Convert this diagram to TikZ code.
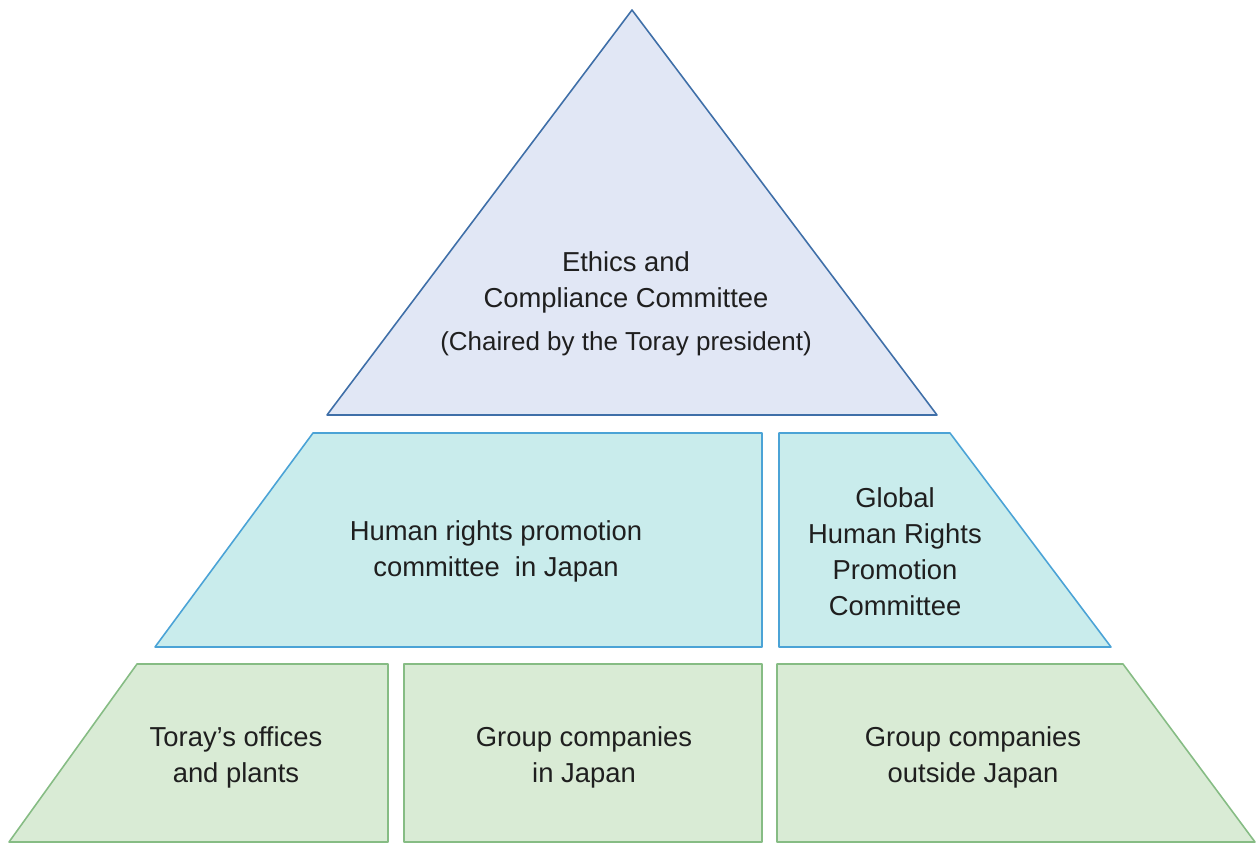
\documentclass[tikz,border=0pt]{standalone}
\usepackage{fontspec}
\setmainfont{Liberation Sans}
\usepackage[table, x11names]{xcolor}
\usepackage{tikz}

\definecolor{topfill}{HTML}{E1E7F5}
\definecolor{topline}{HTML}{3F6FA8}
\definecolor{midfill}{HTML}{C9ECEC}
\definecolor{midline}{HTML}{4BA3D6}
\definecolor{botfill}{HTML}{D9EBD5}
\definecolor{botline}{HTML}{86BC84}

\begin{document}
\begin{tikzpicture}[x=0.02cm,y=-0.02cm,
  toplevel/.style={draw=topline,fill=topfill,line width=0.9pt,line join=round},
  midlevel/.style={draw=midline,fill=midfill,line width=0.9pt,line join=round},
  botlevel/.style={draw=botline,fill=botfill,line width=0.9pt,line join=round},
  label/.style={align=center,text=black!88,font=\fontsize{15.6}{20.5}\selectfont}]
  \useasboundingbox (0,0) rectangle (1257,843);

  % top triangle
  \draw[toplevel] (632,10) -- (937,415) -- (327,415) -- cycle;
  \node[label] (ethics) at (626,304) {Ethics and\\Compliance Committee\\[4pt]{\fontsize{14.8}{20.5}\selectfont(Chaired by the Toray president)}};

  % middle row
  \draw[midlevel] (313,433) -- (762,433) -- (762,647) -- (155,647) -- cycle;
  \draw[midlevel] (779,433) -- (950,433) -- (1111,647) -- (779,647) -- cycle;
  \node[label] (japan) at (496,551) {Human rights promotion\\committee\ \ in Japan};
  \node[label] (global) at (895,552) {Global\\Human Rights\\Promotion\\Committee};

  % bottom row
  \draw[botlevel] (137,664) -- (388,664) -- (388,842) -- (9,842) -- cycle;
  \draw[botlevel] (404,664) -- (762,664) -- (762,842) -- (404,842) -- cycle;
  \draw[botlevel] (777,664) -- (1123,664) -- (1255,842) -- (777,842) -- cycle;
  \node[label] (offices) at (236,757) {Toray’s offices\\and plants};
  \node[label] (groupjp) at (584,757) {Group companies\\in Japan};
  \node[label] (groupos) at (973,757) {Group companies\\outside Japan};
\end{tikzpicture}
\end{document}
